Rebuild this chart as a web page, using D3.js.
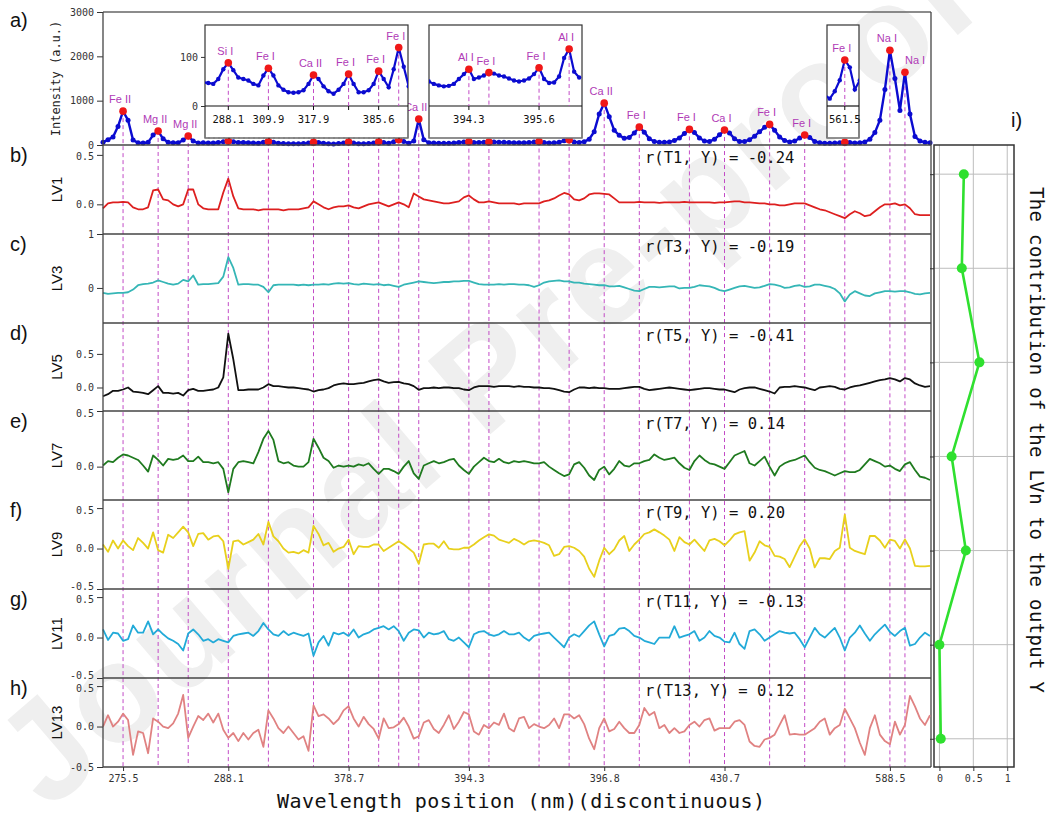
<!DOCTYPE html>
<html lang="en">
<head>
    <title>LV loadings and contributions</title>
    <meta charset="UTF-8">
    <script src="https://d3js.org/d3.v7.min.js"></script>
    <style>
        body { margin: 0; background: #fff; }
        svg { display: block; font-family: 'DejaVu Sans Mono', monospace; }
        .axis path { display: none; }
        .axis line { stroke: #333; }
        .axis text { font-size: 10px; fill: #333; font-family: 'DejaVu Sans Mono', monospace; }
        .sep { stroke: #444; stroke-width: 1.3; }
        .peak-line { stroke: #c24bc6; stroke-dasharray: 4,3; stroke-width: 1; fill: none; }
        .peak-name { font-family: 'Liberation Sans', Arial, sans-serif; font-size: 11px; fill: #b03ab6; }
        .panel-tag { font-family: 'Liberation Sans', Arial, sans-serif; font-size: 20px; fill: #111; }
        .lv-name { font-family: 'Liberation Sans', Arial, sans-serif; font-size: 15px; fill: #111; }
        .r-label { font-size: 15.5px; fill: #111; }
        .grid { stroke: #bdbdbd; stroke-width: 1; }
    </style>
</head>
<body>
<script>
// spectrum intensity (a.u.), one value per wavelength position
var spectrum = [
    60, 120, 180, 420, 764, 560, 110, 50, 45, 60,
    225, 316, 140, 60, 50, 50, 110, 202, 90, 45,
    48, 47, 45, 55, 75, 88, 73, 58, 55, 52,
    45, 42, 62, 77, 62, 42, 33, 28, 27, 28,
    32, 45, 63, 55, 40, 30, 25, 33, 45, 65,
    45, 28, 28, 32, 45, 71, 55, 38, 75, 119,
    80, 40, 90, 584, 120, 50, 45, 42, 40, 41,
    45, 55, 65, 75, 55, 58, 62, 68, 66, 62,
    60, 56, 52, 50, 52, 56, 65, 78, 55, 47,
    48, 60, 98, 116, 70, 58, 75, 130, 300, 700,
    944, 640, 330, 220, 150, 170, 270, 404, 290, 140,
    80, 60, 60, 70, 100, 160, 260, 352, 280, 160,
    90, 80, 130, 230, 337, 270, 140, 80, 80, 120,
    200, 300, 400, 465, 330, 180, 100, 70, 90, 160,
    225, 170, 80, 50, 42, 40, 44, 50, 61, 57,
    45, 50, 70, 130, 280, 560, 1250, 2135, 1500, 780,
    1640, 700, 190, 90, 60, 50
];

var lv1 = [
    -0.04, 0.01, 0.02, 0.02, 0.025, 0.02, -0.03, -0.05, -0.05, -0.03,
    0.14, 0.15, 0.05, 0.04, 0.0, -0.02, 0.0, 0.15, 0.15, 0.0,
    -0.04, -0.05, -0.05, -0.05, 0.12, 0.26, 0.08, -0.04, -0.05, -0.05,
    -0.05, -0.06, -0.05, -0.05, -0.05, -0.05, -0.06, -0.05, -0.05, -0.05,
    -0.04, -0.03, 0.03, 0.0, -0.03, -0.05, -0.03, -0.02, -0.02, -0.01,
    -0.03, -0.04, -0.02, 0.0, 0.01, 0.02, 0.0, -0.02, 0.0, 0.02,
    0.0, -0.03, 0.11, 0.08, 0.05, 0.04, 0.03, 0.02, 0.01, 0.01,
    0.02, 0.03, 0.07, 0.09, 0.05, 0.02, 0.02, 0.03, 0.02, 0.01,
    0.01, 0.01, 0.01, 0.0, 0.01, 0.01, 0.01, 0.01, 0.03, 0.04,
    0.06, 0.09, 0.115, 0.1, 0.05, 0.04, 0.06, 0.1, 0.11, 0.11,
    0.105, 0.1, 0.06, 0.02, 0.02, 0.02, 0.02, 0.025, 0.02, 0.02,
    0.02, 0.015, 0.02, 0.02, 0.02, 0.02, 0.025, 0.02, 0.02, 0.02,
    0.02, 0.02, 0.015, 0.02, 0.02, 0.025, 0.03, 0.03, 0.02, 0.02,
    0.015, 0.01, 0.01, 0.0, 0.0, -0.01, -0.01, 0.0, 0.01, 0.01,
    0.01, -0.01, -0.03, -0.05, -0.06, -0.08, -0.1, -0.12, -0.14, -0.1,
    -0.07, -0.09, -0.12, -0.11, -0.07, -0.03, 0.0, 0.0, 0.01, -0.01,
    0.0, -0.04, -0.1, -0.11, -0.11, -0.11
];

var lv3 = [
    -0.09, -0.11, -0.1, -0.09, -0.09, -0.08, -0.03, 0.05, 0.07, 0.08,
    0.1, 0.14, 0.11, 0.08, 0.06, 0.08, 0.15, 0.12, 0.23, 0.06,
    0.07, 0.07, 0.08, 0.09, 0.21, 0.57, 0.37, 0.06, 0.07, 0.07,
    0.06, 0.06, 0.02, -0.08, 0.05, 0.06, 0.06, 0.06, 0.06, 0.05,
    0.06, 0.05, 0.06, 0.06, 0.07, 0.06, 0.08, 0.09, 0.08, 0.09,
    0.07, 0.06, 0.08, 0.07, 0.06, 0.07, 0.05, 0.06, 0.04, 0.02,
    0.06, 0.08, 0.1, 0.12, 0.11, 0.1, 0.09, 0.1, 0.11, 0.11,
    0.12, 0.12, 0.13, 0.13, 0.1, 0.07, 0.06, 0.06, 0.06, 0.07,
    0.06, 0.07, 0.07, 0.06, 0.06, 0.05, 0.02, 0.05, 0.1, 0.12,
    0.13, 0.14, 0.12, 0.12, 0.1, 0.1, 0.08, 0.07, 0.06, 0.05,
    0.05, 0.03, 0.03, 0.04, 0.01, -0.02, -0.05, -0.06, -0.02, 0.02,
    0.02, 0.01, 0.02, 0.03, 0.03, -0.01, 0.0, 0.0, 0.02, 0.05,
    0.04, 0.03, 0.0, -0.04, -0.06, -0.03, 0.0, 0.03, 0.04, 0.02,
    0.0, 0.01, 0.04, 0.07, 0.06, 0.04, 0.0, 0.01, 0.04, 0.05,
    0.02, 0.03, 0.06, 0.06, 0.04, 0.02, -0.02, -0.1, -0.25, -0.12,
    -0.06, -0.1, -0.14, -0.15, -0.1, -0.08, -0.06, -0.06, -0.07, -0.06,
    -0.06, -0.08, -0.11, -0.12, -0.1, -0.09
];

var lv5 = [
    -0.13, -0.1, -0.05, -0.05, -0.03, 0.0, -0.06, -0.07, -0.08, -0.1,
    -0.04, 0.02, -0.08, -0.08, -0.09, -0.08, -0.12, -0.04, -0.02, -0.05,
    -0.05, -0.04, -0.03, 0.0, 0.15, 0.8, 0.42, -0.04, -0.04, -0.03,
    -0.03, -0.03, 0.0, 0.05, 0.02, 0.02, 0.01, 0.0, 0.0, -0.01,
    -0.02, -0.03, -0.06, -0.04, -0.03, -0.01, 0.03, 0.05, 0.06, 0.05,
    0.05, 0.06, 0.07, 0.09, 0.11, 0.12, 0.09, 0.07, 0.08, 0.085,
    0.06, 0.05, 0.02, -0.035, -0.01, -0.01, 0.0, -0.01, 0.0, 0.0,
    -0.01, -0.01, -0.03, -0.04, 0.0, 0.02, 0.02, 0.02, 0.01, 0.02,
    0.02, 0.02, 0.01, 0.02, 0.01, 0.01, 0.0, 0.0, -0.01, -0.01,
    -0.02, -0.04, -0.06, -0.07, -0.03, 0.0, 0.0, -0.01, 0.0, -0.01,
    -0.01, -0.02, -0.02, -0.02, -0.01, 0.0, 0.01, 0.01, -0.02, -0.04,
    -0.03, -0.02, -0.01, 0.0, -0.01, -0.02, -0.03, -0.04, -0.03, -0.02,
    -0.01, -0.01, -0.02, -0.03, -0.03, -0.05, -0.07, -0.03, -0.01, 0.0,
    0.0, -0.02, -0.04, -0.06, -0.09, 0.0, 0.01, 0.01, 0.02, 0.01,
    0.0, -0.02, -0.04, 0.0, 0.01, 0.02, 0.01, -0.02, -0.03, 0.0,
    0.02, 0.03, 0.05, 0.07, 0.09, 0.11, 0.12, 0.14, 0.12, 0.09,
    0.14, 0.12, 0.06, 0.03, 0.01, 0.02
];

var lv7 = [
    0.01, 0.05, 0.04, 0.08, 0.11, 0.1, 0.08, 0.06, 0.01, -0.045,
    0.1, 0.06, 0.01, 0.07, 0.06, 0.07, 0.1, 0.05, 0.05, 0.09,
    0.04, 0.04, 0.03, 0.04, -0.02, -0.23, -0.02, 0.04, 0.05, 0.04,
    0.03, 0.13, 0.25, 0.32, 0.24, 0.05, 0.03, 0.04, 0.01, 0.0,
    0.0, 0.04, 0.25, 0.17, 0.08, 0.05, -0.01, 0.01, 0.0, 0.01,
    0.0, 0.02, 0.01, 0.03, -0.02, -0.065, -0.02, -0.02, -0.04, -0.065,
    0.0, 0.05, -0.06, -0.11, 0.01, 0.03, 0.05, 0.03, 0.04, 0.06,
    0.07, 0.01, -0.03, -0.065, 0.0, 0.04, 0.08, 0.05, 0.04, 0.07,
    0.04, 0.03, 0.05, 0.04, 0.05, 0.04, 0.03, 0.03, 0.04, 0.0,
    -0.03, -0.06, -0.085, -0.07, 0.02, 0.04, -0.01, -0.08, -0.12, -0.03,
    0.0, -0.07, -0.02, 0.05, 0.01, 0.0, 0.03, 0.03, 0.05, 0.06,
    0.11, 0.08, 0.06, 0.07, 0.08, 0.03, -0.01, -0.03, 0.05, 0.1,
    0.06, 0.03, 0.02, 0.0, -0.02, 0.04, 0.1, 0.12, 0.14, 0.03,
    0.01, 0.05, 0.09, 0.0, -0.08, 0.0, 0.03, 0.05, 0.06, 0.08,
    0.1, 0.04, -0.01, -0.03, -0.04, -0.06, -0.08, -0.06, -0.04, -0.05,
    -0.05, -0.03, 0.02, 0.07, 0.05, 0.03, 0.0, 0.01, -0.02, -0.04,
    0.02, 0.04, -0.03, -0.09, -0.1, -0.12
];

var lv9 = [
    0.05, -0.04, 0.1, 0.0, 0.1, 0.03, -0.02, 0.13, 0.07, 0.0,
    0.2, -0.02, -0.05, 0.17, 0.13, 0.2, 0.27, 0.2, 0.03, 0.18,
    0.19, 0.11, 0.15, 0.16, 0.09, -0.25, 0.09, 0.1, 0.05, 0.08,
    0.11, 0.18, 0.05, 0.33, 0.15, 0.09, 0.0, -0.05, -0.04, -0.06,
    -0.02, -0.05, 0.28, 0.18, 0.04, 0.07, -0.04, 0.0, 0.02, 0.11,
    -0.07, 0.03, 0.02, 0.02, 0.05, 0.05, -0.03, 0.01, 0.05, 0.09,
    0.05, 0.0, -0.05, -0.19, 0.05, 0.06, 0.06, 0.01, 0.09, 0.0,
    -0.01, -0.01, 0.01, 0.01, 0.05, 0.1, 0.14, 0.175, 0.16, 0.11,
    0.09, 0.07, 0.12, 0.09, 0.05, 0.09, 0.1, 0.09, 0.07, 0.04,
    -0.09, -0.07, 0.02, 0.03, 0.01, -0.03, -0.1, -0.25, -0.35, -0.15,
    0.01, -0.07, -0.01, 0.1, 0.155, -0.03, 0.05, 0.11, 0.18, 0.2,
    0.237, 0.2, 0.16, 0.11, -0.03, 0.14, 0.08, 0.05, 0.11, 0.04,
    -0.03, 0.1, 0.12, 0.09, 0.04, 0.1, 0.175, 0.2, 0.215, -0.15,
    -0.05, 0.09, 0.04, 0.02, -0.09, -0.1, -0.13, -0.23, -0.1, 0.03,
    0.114, 0.0, -0.233, -0.12, -0.12, -0.13, -0.03, 0.01, 0.42, 0.01,
    -0.03, -0.05, -0.07, 0.155, 0.155, 0.1, 0.01, 0.11, 0.094, 0.0,
    0.114, 0.0, -0.213, -0.22, -0.22, -0.213
];

var lv11 = [
    0.1, -0.03, 0.06, 0.05, -0.04, -0.02, 0.15, 0.06, 0.06, 0.2,
    0.04, 0.1, 0.04, -0.01, -0.04, -0.08, -0.16, 0.05, 0.1, 0.04,
    -0.04, -0.02, -0.06, -0.02, -0.04, -0.06, 0.02, 0.04, 0.05, 0.06,
    0.02, 0.08, 0.18, 0.1, 0.04, 0.02, 0.08, 0.03, 0.06, 0.04,
    0.02, 0.05, -0.225, -0.06, 0.02, -0.1, 0.06, 0.04, 0.06, 0.02,
    0.1, 0.0, 0.04, 0.06, 0.1, 0.12, 0.14, 0.1, 0.14, 0.08,
    -0.04, 0.06, 0.1, 0.09, 0.0, 0.06, 0.04, 0.05, 0.08, -0.02,
    -0.04, 0.0, -0.06, -0.12, 0.04, 0.07, 0.08, 0.04, 0.02, 0.04,
    0.08, 0.04, 0.04, 0.06, 0.0, -0.04, 0.02, 0.04, 0.05, 0.06,
    0.0, -0.06, -0.12, 0.0, 0.04, 0.01, 0.08, 0.15, 0.2, 0.04,
    -0.11, 0.02, 0.04, 0.11, 0.12, 0.08, 0.02, 0.0, -0.04, -0.06,
    -0.08, 0.0, 0.0, 0.0, 0.14, 0.0, 0.02, 0.04, 0.08, -0.04,
    0.0, 0.08, 0.02, 0.0, -0.05, -0.06, 0.06, -0.08, -0.14, 0.08,
    0.1, 0.04, -0.04, 0.0, 0.04, 0.08, 0.06, 0.05, 0.06, -0.02,
    -0.12, 0.0, 0.12, 0.04, 0.0, 0.06, 0.12, 0.0, -0.16, 0.0,
    0.06, 0.15, 0.05, -0.04, 0.04, 0.1, 0.16, 0.07, 0.02, 0.08,
    0.12, -0.1, -0.08, 0.0, 0.06, 0.02
];

var lv13 = [
    0.0, 0.14, 0.0, 0.06, 0.16, 0.08, -0.35, -0.06, -0.08, -0.33,
    0.1, 0.06, 0.0, -0.02, 0.04, 0.16, 0.39, -0.14, 0.0, 0.13,
    0.08, 0.16, 0.05, 0.16, -0.04, -0.14, -0.08, -0.18, -0.08, -0.16,
    -0.08, -0.04, -0.25, 0.2, 0.1, -0.02, -0.08, 0.0, -0.08, -0.16,
    -0.12, -0.3, 0.26, 0.13, 0.15, 0.1, 0.03, 0.09, 0.2, 0.25,
    0.1, 0.0, 0.12, 0.03, -0.03, -0.15, 0.1, -0.02, -0.01, 0.03,
    0.11, 0.0, -0.15, -0.12, 0.05, 0.08, -0.03, -0.08, 0.02, 0.14,
    -0.03, 0.06, 0.18, 0.15, -0.06, -0.1, 0.02, -0.02, 0.05, 0.02,
    0.16, -0.02, -0.06, 0.1, 0.12, -0.02, 0.03, 0.0, -0.02, 0.02,
    0.1, -0.02, 0.15, 0.15, 0.1, 0.14, 0.03, -0.15, -0.28, -0.02,
    0.1, -0.06, -0.03, 0.06, -0.02, -0.08, -0.08, 0.02, 0.23, 0.14,
    0.18, -0.02, 0.02, -0.08, -0.02, -0.08, -0.06, 0.02, 0.06, 0.0,
    0.08, 0.1, -0.05, -0.02, -0.02, -0.02, 0.06, 0.08, 0.02, -0.185,
    -0.24, -0.25, -0.16, -0.14, -0.1, 0.02, 0.14, -0.1, -0.09, -0.1,
    -0.1, -0.06, -0.02, 0.06, 0.1, -0.1, -0.02, 0.02, 0.22, 0.1,
    -0.02, -0.2, -0.35, -0.02, 0.14, -0.1, -0.18, -0.22, 0.06, -0.1,
    0.02, 0.38, 0.25, 0.1, 0.02, 0.14
];

// identified emission lines: position index, name, where labelled (0 main, 1-3 inset)
var peakIdx = [4, 11, 17, 25, 33, 42, 49, 55, 59, 63, 73, 77, 87, 93, 100, 107, 117, 124, 133, 140, 148, 157, 160];
var peakNames = ["Fe II", "Mg II", "Mg II", "Si I", "Fe I", "Ca II", "Fe I", "Fe I", "Fe I", "Ca II",
    "Al I", "Fe I", "Fe I", "Al I", "Ca II", "Fe I", "Fe I", "Ca I", "Fe I", "Fe I", "Fe I", "Na I", "Na I"];
var peakPanel = [0, 0, 0, 1, 1, 1, 1, 1, 1, 0, 2, 2, 2, 2, 0, 0, 0, 0, 0, 0, 3, 0, 0];

var xTickIdx = [4, 25, 49, 73, 100, 124, 157];
var xTickLabels = ["275.5", "288.1", "378.7", "394.3", "396.8", "430.7", "588.5"];

var insetTickIdx = [25, 33, 42, 49, 55, 73, 87, 148];
var insetTickLabels = ["288.1", "309.9", "317.9", "", "385.6", "394.3", "395.6", "561.5"];

var lvNames = ["LV1", "LV3", "LV5", "LV7", "LV9", "LV11", "LV13"];
var lvDomains = [[-0.3, 0.6], [-0.65, 1], [-0.35, 0.96], [-0.3, 0.5], [-0.5, 0.6], [-0.5, 0.6], [-0.5, 0.6]];
var lvTicks = [[0, 0.5], [0, 1], [0, 0.5], [0, 0.5], [-0.5, 0, 0.5], [-0.5, 0, 0.5], [-0.5, 0, 0.5]];
var rValues = ["-0.24", "-0.19", "-0.41", "0.14", "0.20", "-0.13", "0.12"];
var contribution = [0.36, 0.33, 0.59, 0.18, 0.39, 0.0, 0.02];

var lvColors = ["#dd1f1f", "#35b6b6", "#111111", "#1f7a1f", "#e8d01c", "#22aad8", "#e08282"];

var W = 1051, H = 816;
var L = 103, R = 931, TOP = 12, AB = 145, BOT = 767;
var bandTops = [145, 234, 323, 411, 500, 589, 678, 767];

var svg = d3.select("body").append("svg")
    .attr("width", W)
    .attr("height", H);

// watermark
svg.append("text")
    .attr("transform", "translate(48,812) rotate(-40.5)")
    .attr("textLength", 1230)
    .attr("lengthAdjust", "spacing")
    .style("font-family", "'Liberation Sans', Arial, sans-serif")
    .style("font-size", "140px")
    .style("font-weight", "bold")
    .style("fill", "#efefef")
    .text("Journal Pre-proof");

var x = d3.scaleLinear()
    .domain([0, spectrum.length - 1])
    .range([L, 930]);

// ---------- panel a ----------
var ya = d3.scaleLinear().domain([0, 3000]).range([AB, TOP]);

svg.append("g")
    .attr("class", "axis")
    .attr("transform", "translate(" + L + ",0)")
    .call(d3.axisLeft(ya).tickValues([0, 1000, 2000, 3000]).tickSize(6).tickPadding(3).tickFormat(d3.format("d")));

// dashed line from every peak down through all panels
svg.selectAll(".peak-line")
    .data(peakIdx)
    .enter().append("line")
    .attr("class", "peak-line")
    .attr("x1", function(d) { return x(d); })
    .attr("x2", function(d) { return x(d); })
    .attr("y1", function(d) { return ya(spectrum[d]); })
    .attr("y2", BOT);

var specLine = d3.line()
    .x(function(d, i) { return x(i); })
    .y(function(d) { return ya(d); });

svg.append("path")
    .datum(spectrum)
    .attr("d", specLine)
    .attr("fill", "none")
    .attr("stroke", "#0b0bd0")
    .attr("stroke-width", 2.4);

svg.selectAll(".spec-dot")
    .data(spectrum)
    .enter().append("circle")
    .attr("class", "spec-dot")
    .attr("cx", function(d, i) { return x(i); })
    .attr("cy", function(d) { return ya(d); })
    .attr("r", 2.5)
    .attr("fill", "#0b0bd0");

svg.selectAll(".peak-dot")
    .data(peakIdx)
    .enter().append("circle")
    .attr("class", "peak-dot")
    .attr("cx", function(d) { return x(d); })
    .attr("cy", function(d) { return ya(spectrum[d]); })
    .attr("r", 3.8)
    .attr("fill", "#f01818");

peakIdx.forEach(function(p, k) {
    if (peakPanel[k] !== 0) return;
    var close = k > 0 && peakPanel[k - 1] === 0 && p - peakIdx[k - 1] < 5;
    svg.append("text")
        .attr("class", "peak-name")
        .attr("x", close ? x(p) : x(p) - 3)
        .attr("y", ya(spectrum[p]) - 8)
        .attr("text-anchor", close ? "start" : "middle")
        .text(peakNames[k]);
});

// frame of panel a
svg.append("line").attr("class", "sep").attr("x1", L).attr("x2", R).attr("y1", TOP).attr("y2", TOP).style("stroke", "#666").style("stroke-width", 1.6);
svg.append("line").attr("class", "sep").attr("x1", R).attr("x2", R).attr("y1", TOP).attr("y2", BOT);

svg.append("text")
    .attr("transform", "translate(60," + ((TOP + AB) / 2) + ") rotate(-90)")
    .attr("text-anchor", "middle")
    .style("font-size", "12px")
    .style("fill", "#222")
    .text("Intensity (a.u.)");

// ---------- insets ----------
var insets = [
    { x0: 205, x1: 408, from: 20, to: 61, domain: [0, 165], yTicks: [0, 100], panel: 1 },
    { x0: 429, x1: 582, from: 65, to: 95, domain: [0, 165], yTicks: [], panel: 2 },
    { x0: 827, x1: 859, from: 144, to: 151, domain: [36, 80], yTicks: [], panel: 3 }
];
var inTop = 25, inAxis = 106, inBot = 138;

insets.forEach(function(ins, n) {
    var g = svg.append("g");
    var yi = d3.scaleLinear().domain(ins.domain).range([inAxis, inTop]);
    var clipId = "inset-clip-" + n;
    svg.append("clipPath").attr("id", clipId)
        .append("rect")
        .attr("x", ins.x0).attr("y", inTop)
        .attr("width", ins.x1 - ins.x0).attr("height", inAxis - inTop);

    g.append("rect")
        .attr("x", ins.x0).attr("y", inTop)
        .attr("width", ins.x1 - ins.x0).attr("height", inBot - inTop)
        .attr("fill", "#fff")
        .attr("stroke", "#333")
        .attr("stroke-width", 1.2);
    g.append("line")
        .attr("x1", ins.x0).attr("x2", ins.x1)
        .attr("y1", inBot).attr("y2", inBot)
        .attr("stroke", "#999").attr("stroke-width", 1.2)
        .attr("stroke-dasharray", n === 0 ? "3,2" : null);
    g.append("line")
        .attr("x1", ins.x0).attr("x2", ins.x1)
        .attr("y1", inAxis).attr("y2", inAxis)
        .attr("stroke", "#111").attr("stroke-width", 1.2);

    var idx = d3.range(ins.from, ins.to + 1);
    var pk = peakIdx.filter(function(p, k) { return peakPanel[k] === ins.panel; });

    var pg = g.append("g").attr("clip-path", "url(#" + clipId + ")");
    pg.selectAll(".in-line")
        .data(pk)
        .enter().append("line")
        .attr("class", "peak-line")
        .attr("x1", function(d) { return x(d); })
        .attr("x2", function(d) { return x(d); })
        .attr("y1", function(d) { return yi(spectrum[d]); })
        .attr("y2", inAxis);
    pg.append("path")
        .datum(idx)
        .attr("d", d3.line().x(function(i) { return x(i); }).y(function(i) { return yi(spectrum[i]); }))
        .attr("fill", "none")
        .attr("stroke", "#0b0bd0")
        .attr("stroke-width", 2.2);
    pg.selectAll(".in-dot")
        .data(idx)
        .enter().append("circle")
        .attr("cx", function(i) { return x(i); })
        .attr("cy", function(i) { return yi(spectrum[i]); })
        .attr("r", 2.2)
        .attr("fill", "#0b0bd0");
    pg.selectAll(".in-peak")
        .data(pk)
        .enter().append("circle")
        .attr("cx", function(d) { return x(d); })
        .attr("cy", function(d) { return yi(spectrum[d]); })
        .attr("r", 3.8)
        .attr("fill", "#f01818");

    g.selectAll(".in-name")
        .data(pk)
        .enter().append("text")
        .attr("class", "peak-name")
        .attr("x", function(d) { return x(d) - 3; })
        .attr("y", function(d) { return yi(spectrum[d]) - 8; })
        .attr("text-anchor", "middle")
        .text(function(d) { return peakNames[peakIdx.indexOf(d)]; });

    // inset x ticks
    insetTickIdx.forEach(function(t, k) {
        if (t < ins.from || t > ins.to) return;
        g.append("line")
            .attr("x1", x(t)).attr("x2", x(t))
            .attr("y1", inAxis).attr("y2", inAxis + 4)
            .attr("stroke", "#111");
        g.append("text")
            .attr("x", x(t)).attr("y", inAxis + 17)
            .attr("text-anchor", "middle")
            .style("font-size", "10.5px").style("fill", "#111")
            .text(insetTickLabels[k]);
    });

    if (ins.yTicks.length) {
        g.append("g")
            .attr("class", "axis")
            .attr("transform", "translate(" + ins.x0 + ",0)")
            .call(d3.axisLeft(yi).tickValues(ins.yTicks).tickSize(4).tickPadding(3).tickFormat(d3.format("d")));
    }
});

// ---------- LV panels ----------
var series = [lv1, lv3, lv5, lv7, lv9, lv11, lv13];
var tags = ["b)", "c)", "d)", "e)", "f)", "g)", "h)"];

series.forEach(function(vals, k) {
    var y0 = bandTops[k], y1 = bandTops[k + 1];
    var y = d3.scaleLinear().domain(lvDomains[k]).range([y1, y0]);
    var fmt = k === 1 ? d3.format("d") : function(v) { return v.toFixed(1); };

    var ax = svg.append("g")
        .attr("class", "axis")
        .attr("transform", "translate(" + L + ",0)")
        .call(d3.axisLeft(y).tickValues(lvTicks[k]).tickSize(6).tickPadding(3).tickFormat(fmt));
    // bottom "-0.5" and top "0.5" of neighbouring panels sit on top of each other, as in the figure
    ax.selectAll(".tick text")
        .attr("dy", function(d) {
            if (d === -0.5 && k < series.length - 1) return "0.05em";
            if (d === 0.5 && y(d) - y0 < 10) return "0.5em";
            return "0.32em";
        });

    svg.append("path")
        .datum(vals)
        .attr("d", d3.line().x(function(d, i) { return x(i); }).y(function(d) { return y(d); }))
        .attr("fill", "none")
        .attr("stroke", lvColors[k])
        .attr("stroke-width", 1.8)
        .attr("stroke-linejoin", "round");

    svg.append("line").attr("class", "sep")
        .attr("x1", L).attr("x2", R).attr("y1", y0).attr("y2", y0);

    svg.append("text")
        .attr("class", "lv-name")
        .attr("transform", "translate(62," + ((y0 + y1) / 2) + ") rotate(-90)")
        .attr("text-anchor", "middle")
        .text(lvNames[k]);

    svg.append("text")
        .attr("class", "panel-tag")
        .attr("x", 10).attr("y", y0 + 17)
        .text(tags[k]);

    svg.append("text")
        .attr("class", "r-label")
        .attr("x", 645).attr("y", y0 + 18)
        .text("r(T" + lvNames[k].slice(2) + ", Y) = " + rValues[k]);
});

svg.append("line").attr("class", "sep").attr("x1", L).attr("x2", R).attr("y1", BOT).attr("y2", BOT);
svg.append("line").attr("class", "sep").attr("x1", L).attr("x2", L).attr("y1", TOP).attr("y2", BOT);

svg.append("text").attr("class", "panel-tag").attr("x", 10).attr("y", 27).text("a)");

// bottom axis
svg.append("g")
    .attr("class", "axis")
    .attr("transform", "translate(0," + BOT + ")")
    .call(d3.axisBottom(x).tickValues(xTickIdx).tickSize(4).tickPadding(4)
        .tickFormat(function(d) { return xTickLabels[xTickIdx.indexOf(d)]; }));

svg.append("text")
    .attr("x", 521).attr("y", 808)
    .attr("text-anchor", "middle")
    .attr("textLength", 488)
    .style("font-size", "20px")
    .style("fill", "#111")
    .text("Wavelength position (nm)(discontinuous)");

// ---------- panel i ----------
var xc = d3.scaleLinear().domain([-0.08, 1.1]).range([934, 1014]);
var yc = d3.scaleLinear().domain([-0.31, 6.3]).range([AB, BOT]);
var ci = d3.range(contribution.length);

svg.selectAll(".vgrid")
    .data([0, 0.5, 1])
    .enter().append("line")
    .attr("class", "grid")
    .attr("x1", function(d) { return xc(d); }).attr("x2", function(d) { return xc(d); })
    .attr("y1", AB).attr("y2", BOT);
svg.selectAll(".hgrid")
    .data(ci)
    .enter().append("line")
    .attr("class", "grid")
    .attr("x1", 934).attr("x2", 1014)
    .attr("y1", function(d) { return yc(d); }).attr("y2", function(d) { return yc(d); });

svg.append("g")
    .attr("class", "axis")
    .attr("transform", "translate(934,0)")
    .call(d3.axisLeft(yc).tickValues(ci).tickSize(4).tickFormat(""));
svg.append("g")
    .attr("class", "axis")
    .attr("transform", "translate(0," + BOT + ")")
    .call(d3.axisBottom(xc).tickValues([0, 0.5, 1]).tickSize(4).tickPadding(4)
        .tickFormat(function(d) { return d === 0.5 ? "0.5" : d3.format("d")(d); }));

svg.append("rect")
    .attr("x", 934).attr("y", AB)
    .attr("width", 80).attr("height", BOT - AB)
    .attr("fill", "none")
    .attr("stroke", "#333")
    .attr("stroke-width", 1.5);

svg.append("path")
    .datum(contribution)
    .attr("d", d3.line().x(function(d) { return xc(d); }).y(function(d, i) { return yc(i); }))
    .attr("fill", "none")
    .attr("stroke", "#2fe02f")
    .attr("stroke-width", 2.6);
svg.selectAll(".c-dot")
    .data(contribution)
    .enter().append("circle")
    .attr("cx", function(d) { return xc(d); })
    .attr("cy", function(d, i) { return yc(i); })
    .attr("r", 5)
    .attr("fill", "#2fe02f");

svg.append("text").attr("class", "panel-tag").attr("x", 1011).attr("y", 127).text("i)");

svg.append("text")
    .attr("transform", "translate(1030,440) rotate(90)")
    .attr("text-anchor", "middle")
    .attr("textLength", 506)
    .style("font-size", "19px")
    .style("fill", "#111")
    .text("The contribution of the LVn to the output Y");
</script>
</body>
</html>
